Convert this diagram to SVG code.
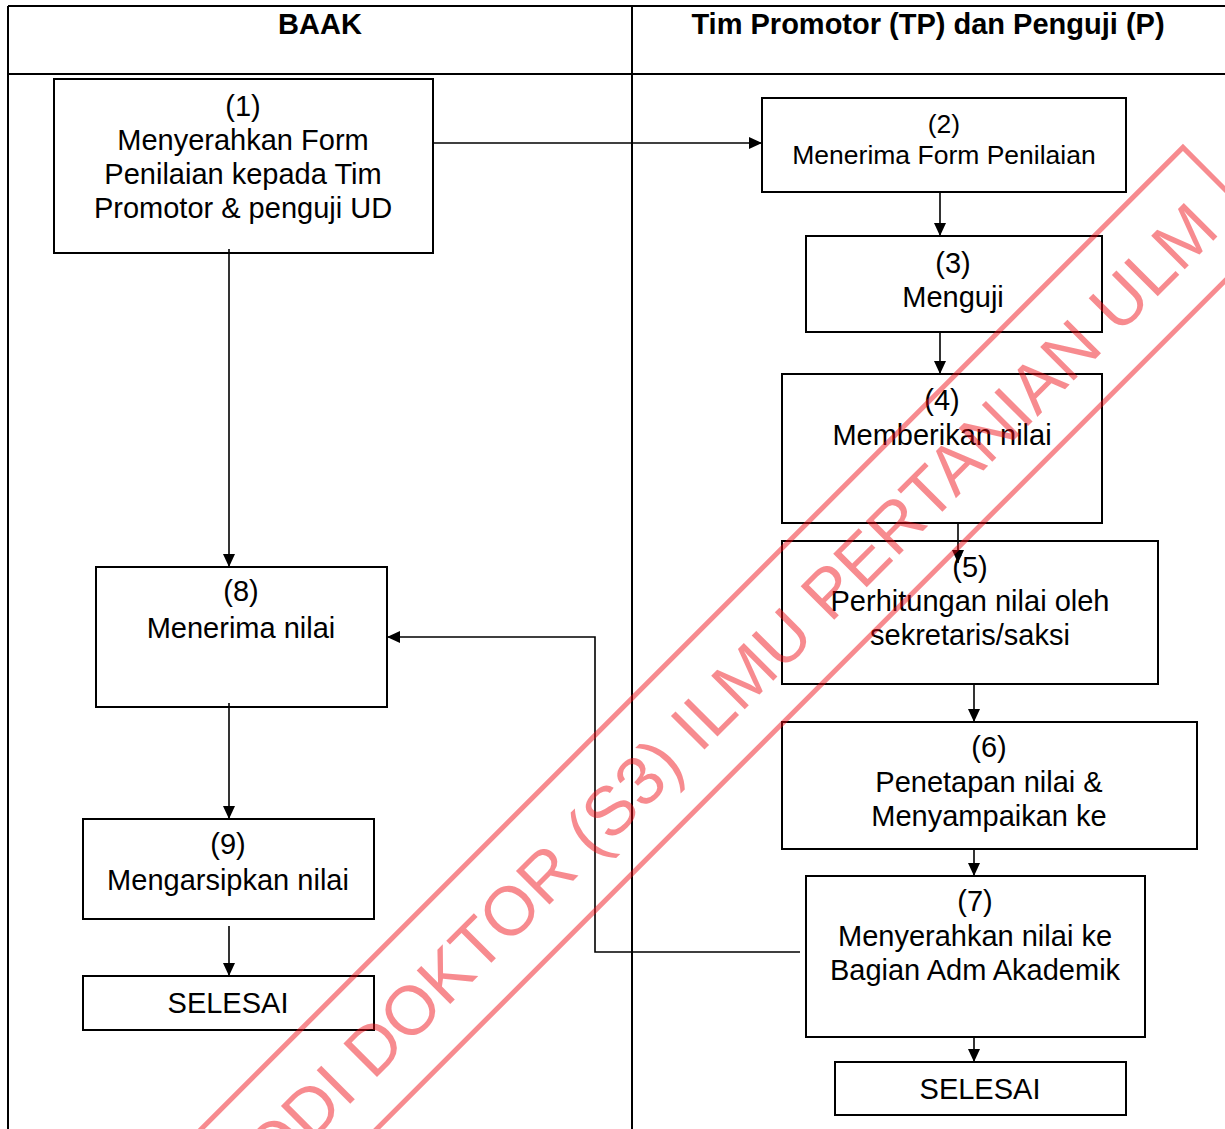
<svg xmlns="http://www.w3.org/2000/svg" width="1225" height="1129" viewBox="0 0 1225 1129">
  <style>
    .lane { stroke: #000; stroke-width: 2; fill: none; }
    .box { fill: #fff; stroke: #000; stroke-width: 2; }
    .hdr { font-family: "Liberation Sans", Arial, sans-serif; font-size: 29px; font-weight: bold; text-anchor: middle; fill: #000; }
    .t { font-family: "Liberation Sans", Arial, sans-serif; font-size: 29px; text-anchor: middle; fill: #000; }
    .ts { font-family: "Liberation Sans", Arial, sans-serif; font-size: 26.5px; text-anchor: middle; fill: #000; }
    .edge { stroke: #000; stroke-width: 1.6; fill: none; }
    .wm { font-family: "Liberation Sans", Arial, sans-serif; font-size: 69px; fill: #f00a14; }
  </style>
  <defs>
    <marker id="arrow" viewBox="0 0 13 12" refX="13" refY="6" markerWidth="13" markerHeight="12" markerUnits="userSpaceOnUse" orient="auto">
      <path d="M0,0 L13,6 L0,12 Z" fill="#000"/>
    </marker>
  </defs>

  <rect width="1225" height="1129" fill="#fff"/>

  <!-- swimlane table -->
  <g id="lanes">
    <line class="lane" x1="8" y1="6" x2="1225" y2="6"/>
    <line class="lane" x1="8" y1="74" x2="1225" y2="74"/>
    <line class="lane" x1="8" y1="6" x2="8" y2="1129"/>
    <line class="lane" x1="632" y1="6" x2="632" y2="1129"/>
    <text class="hdr" x="320" y="34">BAAK</text>
    <text class="hdr" x="928" y="34">Tim Promotor (TP) dan Penguji (P)</text>
  </g>

  <!-- BAAK lane -->
  <g id="n1">
    <rect class="box" x="54" y="79" width="379" height="174"/>
    <text class="t" x="243" y="116">(1)</text>
    <text class="t" x="243" y="150">Menyerahkan Form</text>
    <text class="t" x="243" y="184">Penilaian kepada Tim</text>
    <text class="t" x="243" y="218">Promotor &amp; penguji UD</text>
  </g>
  <g id="n8">
    <rect class="box" x="96" y="567" width="291" height="140"/>
    <text class="t" x="241" y="601">(8)</text>
    <text class="t" x="241" y="638">Menerima nilai</text>
  </g>
  <g id="n9">
    <rect class="box" x="83" y="819" width="291" height="100"/>
    <text class="t" x="228" y="854">(9)</text>
    <text class="t" x="228" y="890">Mengarsipkan nilai</text>
  </g>
  <g id="end-baak">
    <rect class="box" x="83" y="976" width="291" height="54"/>
    <text class="t" x="228" y="1013">SELESAI</text>
  </g>

  <!-- TP / Penguji lane -->
  <g id="n2">
    <rect class="box" x="762" y="98" width="364" height="94"/>
    <text class="ts" x="944" y="133">(2)</text>
    <text class="ts" x="944" y="164">Menerima Form Penilaian</text>
  </g>
  <g id="n3">
    <rect class="box" x="806" y="236" width="296" height="96"/>
    <text class="t" x="953" y="273">(3)</text>
    <text class="t" x="953" y="307">Menguji</text>
  </g>
  <g id="n4">
    <rect class="box" x="782" y="374" width="320" height="149"/>
    <text class="t" x="942" y="410">(4)</text>
    <text class="t" x="942" y="445">Memberikan nilai</text>
  </g>
  <g id="n5">
    <rect class="box" x="782" y="541" width="376" height="143"/>
    <text class="t" x="970" y="577">(5)</text>
    <text class="t" x="970" y="611">Perhitungan nilai oleh</text>
    <text class="t" x="970" y="645">sekretaris/saksi</text>
  </g>
  <g id="n6">
    <rect class="box" x="782" y="722" width="415" height="127"/>
    <text class="t" x="989" y="757">(6)</text>
    <text class="t" x="989" y="792">Penetapan nilai &amp;</text>
    <text class="t" x="989" y="826">Menyampaikan ke</text>
  </g>
  <g id="n7">
    <rect class="box" x="806" y="876" width="339" height="161"/>
    <text class="t" x="975" y="911">(7)</text>
    <text class="t" x="975" y="946">Menyerahkan nilai ke</text>
    <text class="t" x="975" y="980">Bagian Adm Akademik</text>
  </g>
  <g id="end-tp">
    <rect class="box" x="835" y="1062" width="291" height="53"/>
    <text class="t" x="980" y="1099">SELESAI</text>
  </g>

  <!-- connectors -->
  <g id="connectors">
    <path class="edge" d="M433,143 H762" marker-end="url(#arrow)"/>
    <path class="edge" d="M229,249 V567" marker-end="url(#arrow)"/>
    <path class="edge" d="M940,192 V236" marker-end="url(#arrow)"/>
    <path class="edge" d="M940,332 V374" marker-end="url(#arrow)"/>
    <path class="edge" d="M958,523 V563" marker-end="url(#arrow)"/>
    <path class="edge" d="M974,684 V722" marker-end="url(#arrow)"/>
    <path class="edge" d="M974,849 V876" marker-end="url(#arrow)"/>
    <path class="edge" d="M974,1037 V1062" marker-end="url(#arrow)"/>
    <path class="edge" d="M800,952 H595 V637 H387" marker-end="url(#arrow)"/>
    <path class="edge" d="M229,703 V819" marker-end="url(#arrow)"/>
    <path class="edge" d="M229,926 V976" marker-end="url(#arrow)"/>
  </g>

  <!-- diagonal watermark stamp -->
  <g id="watermark" opacity="0.47" transform="translate(700,718) rotate(-45)">
    <rect x="-900" y="-62" width="1645" height="124" fill="none" stroke="#f00a14" stroke-width="5"/>
    <text class="wm" x="712" y="25.5" text-anchor="end">PRODI DOKTOR (S3) ILMU PERTANIAN ULM</text>
  </g>
</svg>
